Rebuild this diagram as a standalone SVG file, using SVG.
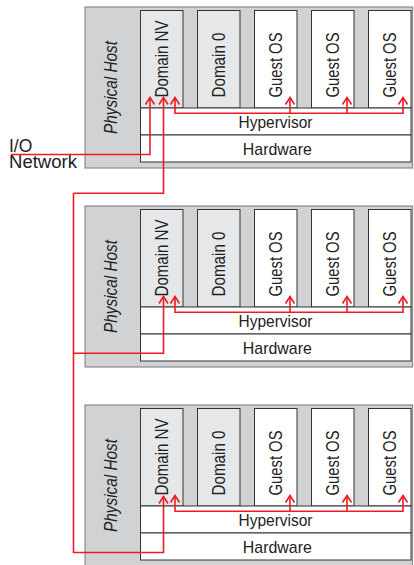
<svg xmlns="http://www.w3.org/2000/svg" width="414" height="565" viewBox="0 0 414 565">
<defs>
<style>
.host{fill:#d1d2d4;stroke:#8a8a8a;stroke-width:1.2}
.dom{fill:#e6e7e8;stroke:#333;stroke-width:1}
.guest{fill:#fff;stroke:#333;stroke-width:1}
.layer{fill:#fff;stroke:#333;stroke-width:1}
text{font-family:"Liberation Sans",Arial,sans-serif;fill:#222;font-size:18px}
.ph{font-style:italic;font-size:17.5px}
.lay{font-size:17px}
.io{font-size:17.5px}
.red{fill:none;stroke:#ed1c24;stroke-width:1.6}
.arr{fill:none;stroke:#ed1c24;stroke-width:1.6}
</style>
<marker id="ah" markerUnits="userSpaceOnUse" markerWidth="20" markerHeight="20" refX="0" refY="0" orient="auto-start-reverse" overflow="visible">
<path class="arr" d="M-7,-4.5 L0,0 L-7,4.5"/>
</marker>
</defs>

<g id="host1">
<rect class="host" x="85" y="7" width="327.5" height="161"/>
<text class="ph" transform="translate(117,87.5) rotate(-90)" text-anchor="middle" textLength="93" lengthAdjust="spacingAndGlyphs">Physical Host</text>
<g id="h1-nv"><rect class="dom" x="140.5" y="10.5" width="42.5" height="97.5"/><text transform="translate(168,97.5) rotate(-90)" textLength="77" lengthAdjust="spacingAndGlyphs">Domain NV</text></g>
<g id="h1-d0"><rect class="dom" x="197.5" y="10.5" width="42.5" height="97.5"/><text transform="translate(225.3,97.5) rotate(-90)" textLength="65" lengthAdjust="spacingAndGlyphs">Domain 0</text></g>
<g id="h1-g1"><rect class="guest" x="254.5" y="10.5" width="42.5" height="97.5"/><text transform="translate(282.3,97.5) rotate(-90)" textLength="65" lengthAdjust="spacingAndGlyphs">Guest OS</text></g>
<g id="h1-g2"><rect class="guest" x="311.5" y="10.5" width="42.5" height="97.5"/><text transform="translate(339.3,97.5) rotate(-90)" textLength="65" lengthAdjust="spacingAndGlyphs">Guest OS</text></g>
<g id="h1-g3"><rect class="guest" x="368.5" y="10.5" width="42.5" height="97.5"/><text transform="translate(396.3,97.5) rotate(-90)" textLength="65" lengthAdjust="spacingAndGlyphs">Guest OS</text></g>
<g id="h1-hyp"><rect class="layer" x="140.5" y="108" width="270.5" height="27"/><text class="lay" x="275.5" y="128.3" text-anchor="middle" textLength="74" lengthAdjust="spacingAndGlyphs">Hypervisor</text></g>
<g id="h1-hw"><rect class="layer" x="140.5" y="135" width="270.5" height="27"/><text class="lay" x="277.3" y="155.3" text-anchor="middle" textLength="69" lengthAdjust="spacingAndGlyphs">Hardware</text></g>
</g>

<g id="host2" transform="translate(0,199)">
<rect class="host" x="85" y="7" width="327.5" height="161"/>
<text class="ph" transform="translate(117,87.5) rotate(-90)" text-anchor="middle" textLength="93" lengthAdjust="spacingAndGlyphs">Physical Host</text>
<g id="h2-nv"><rect class="dom" x="140.5" y="10.5" width="42.5" height="97.5"/><text transform="translate(168,97.5) rotate(-90)" textLength="77" lengthAdjust="spacingAndGlyphs">Domain NV</text></g>
<g id="h2-d0"><rect class="dom" x="197.5" y="10.5" width="42.5" height="97.5"/><text transform="translate(225.3,97.5) rotate(-90)" textLength="65" lengthAdjust="spacingAndGlyphs">Domain 0</text></g>
<g id="h2-g1"><rect class="guest" x="254.5" y="10.5" width="42.5" height="97.5"/><text transform="translate(282.3,97.5) rotate(-90)" textLength="65" lengthAdjust="spacingAndGlyphs">Guest OS</text></g>
<g id="h2-g2"><rect class="guest" x="311.5" y="10.5" width="42.5" height="97.5"/><text transform="translate(339.3,97.5) rotate(-90)" textLength="65" lengthAdjust="spacingAndGlyphs">Guest OS</text></g>
<g id="h2-g3"><rect class="guest" x="368.5" y="10.5" width="42.5" height="97.5"/><text transform="translate(396.3,97.5) rotate(-90)" textLength="65" lengthAdjust="spacingAndGlyphs">Guest OS</text></g>
<g id="h2-hyp"><rect class="layer" x="140.5" y="108" width="270.5" height="27"/><text class="lay" x="275.5" y="128.3" text-anchor="middle" textLength="74" lengthAdjust="spacingAndGlyphs">Hypervisor</text></g>
<g id="h2-hw"><rect class="layer" x="140.5" y="135" width="270.5" height="27"/><text class="lay" x="277.3" y="155.3" text-anchor="middle" textLength="69" lengthAdjust="spacingAndGlyphs">Hardware</text></g>
</g>

<g id="host3" transform="translate(0,398)">
<rect class="host" x="85" y="7" width="327.5" height="161"/>
<text class="ph" transform="translate(117,87.5) rotate(-90)" text-anchor="middle" textLength="93" lengthAdjust="spacingAndGlyphs">Physical Host</text>
<g id="h3-nv"><rect class="dom" x="140.5" y="10.5" width="42.5" height="97.5"/><text transform="translate(168,97.5) rotate(-90)" textLength="77" lengthAdjust="spacingAndGlyphs">Domain NV</text></g>
<g id="h3-d0"><rect class="dom" x="197.5" y="10.5" width="42.5" height="97.5"/><text transform="translate(225.3,97.5) rotate(-90)" textLength="65" lengthAdjust="spacingAndGlyphs">Domain 0</text></g>
<g id="h3-g1"><rect class="guest" x="254.5" y="10.5" width="42.5" height="97.5"/><text transform="translate(282.3,97.5) rotate(-90)" textLength="65" lengthAdjust="spacingAndGlyphs">Guest OS</text></g>
<g id="h3-g2"><rect class="guest" x="311.5" y="10.5" width="42.5" height="97.5"/><text transform="translate(339.3,97.5) rotate(-90)" textLength="65" lengthAdjust="spacingAndGlyphs">Guest OS</text></g>
<g id="h3-g3"><rect class="guest" x="368.5" y="10.5" width="42.5" height="97.5"/><text transform="translate(396.3,97.5) rotate(-90)" textLength="65" lengthAdjust="spacingAndGlyphs">Guest OS</text></g>
<g id="h3-hyp"><rect class="layer" x="140.5" y="108" width="270.5" height="27"/><text class="lay" x="275.5" y="128.3" text-anchor="middle" textLength="74" lengthAdjust="spacingAndGlyphs">Hypervisor</text></g>
<g id="h3-hw"><rect class="layer" x="140.5" y="135" width="270.5" height="27"/><text class="lay" x="277.3" y="155.3" text-anchor="middle" textLength="69" lengthAdjust="spacingAndGlyphs">Hardware</text></g>
</g>

<g id="io-label">
<text class="io" x="9" y="151.7">I/O</text>
<text class="io" x="9" y="167.9" textLength="68" lengthAdjust="spacingAndGlyphs">Network</text>
</g>

<g id="connectors">
<path class="red" d="M11,154.5 H150 V97.5" marker-end="url(#ah)"/>
<path class="red" d="M73.5,193.3 H163.5 V97.5" marker-end="url(#ah)"/>
<path class="red" d="M73.5,193.3 V552.5 H163.5 V496.5" marker-end="url(#ah)"/>
<path class="red" d="M73.5,353.3 H163.5 V296.5" marker-end="url(#ah)"/>
<g id="hyp-links1">
<path class="red" d="M175,97.5 V113.3 H403 V97.5" marker-start="url(#ah)" marker-end="url(#ah)"/>
<path class="red" d="M290,113.3 V97.5" marker-end="url(#ah)"/>
<path class="red" d="M347,113.3 V97.5" marker-end="url(#ah)"/>
</g>
<g id="hyp-links2" transform="translate(0,199)">
<path class="red" d="M175,97.5 V113.3 H403 V97.5" marker-start="url(#ah)" marker-end="url(#ah)"/>
<path class="red" d="M290,113.3 V97.5" marker-end="url(#ah)"/>
<path class="red" d="M347,113.3 V97.5" marker-end="url(#ah)"/>
</g>
<g id="hyp-links3" transform="translate(0,398)">
<path class="red" d="M175,97.5 V113.3 H403 V97.5" marker-start="url(#ah)" marker-end="url(#ah)"/>
<path class="red" d="M290,113.3 V97.5" marker-end="url(#ah)"/>
<path class="red" d="M347,113.3 V97.5" marker-end="url(#ah)"/>
</g>
</g>
</svg>
